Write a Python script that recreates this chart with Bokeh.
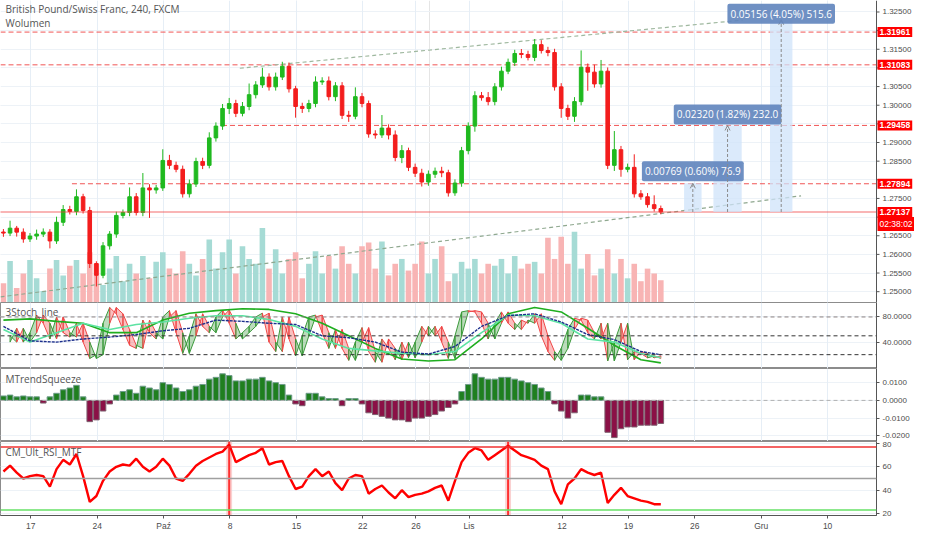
from bokeh.plotting import figure
from bokeh.layouts import column
from bokeh.models import (Range1d, FixedTicker, Grid, Span, Label, NumeralTickFormatter,
                          ColumnDataSource, Arrow, OpenHead)
from bokeh.core.properties import value
from bokeh.embed import file_html
from bokeh.resources import INLINE

# ---------------- data ----------------
title_text = "British Pound/Swiss Franc, 240, FXCM"
volume_title = "Wolumen"
stoch_title = "3Stoch_line"
squeeze_title = "MTrendSqueeze"
rsi_title = "CM_Ult_RSI_MTF"

# x axis: trading days counted from 17 Sep
tick_days = [0, 5, 10, 15, 20, 25, 29, 33, 40, 45, 50, 55, 60]
tick_labels = ["17", "24", "Paź", "8", "15", "22", "26", "Lis", "12", "19", "26", "Gru", "10"]
price_ticks = [1.250, 1.255, 1.260, 1.265, 1.270, 1.275, 1.280, 1.285, 1.290, 1.295,
               1.300, 1.305, 1.310, 1.315, 1.320, 1.325]

first_open = 1.26600
close = [1.26571, 1.26703, 1.26597, 1.26413, 1.26492, 1.26545, 1.26597, 1.26361, 1.26861, 1.27203,
         1.27150, 1.27545, 1.27176, 1.25755, 1.25440, 1.26229, 1.26545, 1.27045, 1.27124, 1.27545,
         1.27124, 1.27782, 1.27729, 1.27782, 1.28519, 1.28387, 1.28282, 1.27624, 1.27887, 1.28492,
         1.28387, 1.29124, 1.29440, 1.29913, 1.30045, 1.29782, 1.29966, 1.30282, 1.30545, 1.30755,
         1.30492, 1.30755, 1.31045, 1.30440, 1.29966, 1.29913, 1.30045, 1.30624, 1.30650, 1.30229,
         1.30519, 1.29729, 1.29703, 1.30229, 1.30045, 1.29229, 1.29203, 1.29387, 1.29203, 1.28597,
         1.28782, 1.28334, 1.28176, 1.27940, 1.28150, 1.28229, 1.28190, 1.27650, 1.27913, 1.28782,
         1.29440, 1.30255, 1.30203, 1.30097, 1.30492, 1.30913, 1.31150, 1.31387, 1.31361, 1.31282,
         1.31624, 1.31466, 1.31413, 1.30492, 1.29913, 1.29703, 1.30097, 1.31019, 1.30887, 1.30571,
         1.30913, 1.28387, 1.28808, 1.28282, 1.28334, 1.27624, 1.27545, 1.27334, 1.27229, 1.27137]
wick_up_pips = [8, 20, 6, 10, 8, 12, 10, 8, 15, 12,
                10, 20, 8, 10, 6, 10, 8, 10, 8, 25,
                10, 40, 10, 8, 30, 15, 10, 10, 12, 10,
                10, 15, 10, 12, 15, 10, 12, 30, 10, 25,
                10, 12, 12, 10, 8, 10, 10, 15, 10, 12,
                10, 10, 12, 25, 10, 8, 10, 35, 10, 12,
                15, 8, 10, 12, 10, 10, 12, 8, 10, 10,
                10, 12, 10, 15, 10, 12, 10, 10, 12, 10,
                15, 12, 10, 10, 10, 10, 12, 45, 10, 20,
                30, 10, 50, 10, 10, 35, 10, 10, 25, 8]
wick_dn_pips = [10, 8, 12, 10, 8, 10, 8, 20, 8, 10,
                8, 10, 8, 12, 30, 8, 10, 10, 8, 10,
                8, 10, 75, 10, 8, 10, 8, 10, 10, 8,
                10, 8, 10, 10, 15, 10, 8, 10, 10, 8,
                10, 10, 8, 10, 30, 12, 10, 10, 8, 10,
                12, 10, 15, 8, 10, 10, 10, 8, 12, 10,
                15, 10, 10, 12, 10, 10, 12, 10, 8, 10,
                10, 15, 8, 10, 10, 10, 8, 10, 10, 8,
                10, 8, 10, 10, 25, 10, 15, 10, 50, 10,
                10, 10, 15, 20, 8, 10, 8, 8, 8, 6]
volume = [20, 43, 15, 30, 44, 25, 12, 35, 44, 28,
          38, 44, 30, 52, 40, 18, 35, 48, 22, 40,
          30, 48, 25, 42, 52, 35, 30, 53, 40, 28,
          45, 65, 35, 52, 65, 30, 58, 45, 40, 77,
          35, 55, 30, 45, 52, 25, 40, 53, 30, 48,
          35, 58, 40, 30, 58, 62, 35, 63, 28, 40,
          45, 33, 40, 63, 30, 45, 58, 22, 30, 42,
          35, 45, 30, 40, 38, 45, 30, 48, 35, 40,
          42, 30, 67, 45, 68, 40, 73, 35, 50, 28,
          35, 55, 30, 45, 25, 40, 22, 35, 30, 23]

levels = [1.31961, 1.31083, 1.29458, 1.27894]
last_price = 1.27137
countdown = "02:38:02"
meas_delta = [0.00769, 0.02320, 0.05156]
meas_pct = ["0.60%", "1.82%", "4.05%"]
meas_bars = ["76.9", "232.0", "515.6"]

# trend-line drawings (day, price)
upper_trend_days = [15.74, 53.6]
upper_trend_prices = [1.30992, 1.32282]
lower_trend_days = [-2.28, 58.0]
lower_trend_prices = [1.24861, 1.27571]

stoch_fast = [50, 40, 62, 40, 55, 83, 70, 45, 80, 55,
              48, 70, 40, 14, 20, 70, 95, 85, 60, 35,
              30, 75, 55, 45, 80, 90, 55, 22, 50, 85,
              65, 55, 80, 91, 70, 45, 55, 65, 80, 86,
              40, 25, 80, 45, 18, 50, 80, 83, 55, 30,
              60, 30, 11, 40, 63, 25, 8, 45, 30, 12,
              40, 15, 40, 65, 50, 65, 40, 14, 50, 88,
              90, 88, 70, 45, 70, 88, 70, 60, 75, 70,
              85, 50, 25, 11, 30, 60, 78, 75, 55, 45,
              70, 10, 40, 70, 12, 25, 22, 15, 18, 14]
stoch_navy = [65, 42, 40, 45, 48, 52, 58, 62, 75, 73, 70, 68, 50, 47, 40, 24, 21, 33, 65, 82, 85, 72, 52, 44, 25, 20]
stoch_light = [60, 40, 55, 70, 60, 68, 72, 78, 82, 82, 76, 65, 45, 30, 26, 22, 20, 25, 55, 83, 82, 70, 45, 40, 22, 15]
stoch_green = [75, 77, 73, 70, 55, 55, 75, 86, 90, 93, 92, 85, 70, 50, 30, 13, 10, 12, 45, 85, 95, 88, 62, 35, 12, 7]
stoch_levels = [80, 50, 20]

squeeze_milli = [2.5, 3, 2, 2.5, 2, 2, -1.5, 2, 4, 6,
                 7, 8.5, 2, -12, -11, -6, -2, 3, 5, 6,
                 4, 8, 7, 6, 10, 9, 7, 5, 6, 8,
                 9, 12, 13, 15, 14, 11, 11, 12, 12, 13,
                 11, 10, 9, 3, -2, -3, 4, 4, 2, 1,
                 1, -3, 1, 1, -2, -7, -8, -9, -10, -11,
                 -11, -12, -10, -10, -9, -8, -6, -4, -2, 5,
                 9, 15, 13, 12, 12, 13, 13, 12, 11, 10,
                 9, 7, 5, -2, -6, -10, -7, 3, 3, 2,
                 2, -18, -21, -16, -15, -15, -14, -14, -14, -13]

rsi = [56, 61, 55, 50, 52, 53, 52, 43, 58, 66,
       62, 71, 52, 30, 35, 48, 56, 60, 62, 61,
       67, 60, 56, 60, 67, 61, 50, 48, 54, 61,
       65, 68, 71, 73, 79, 64, 67, 70, 72, 76,
       62, 64, 65, 52, 41, 43, 52, 58, 52, 56,
       46, 40, 50, 53, 52, 37, 41, 44, 38, 33,
       40, 34, 36, 37, 39, 42, 44, 31, 48, 64,
       72, 76, 74, 66, 70, 74, 78, 74, 70, 68,
       66, 61, 58, 39, 28, 45, 50, 58, 55, 53,
       55, 29, 36, 42, 35, 33, 31, 30, 28, 28]
rsi_levels = [77, 50, 23]

# ---------------- layout constants ----------------
FIRST_BAR_DAY = -2.06
BAR_STEP = 0.5
XMIN, XMAX = -2.28, 63.68
FW = 876
RB = 38
DAYS_PER_PX = (XMAX - XMIN) / FW
XEND = XMAX + RB * DAYS_PER_PX
AXIS_FONT = "Liberation Sans"
TEXT_FONT = "Open Sans"
UP, DOWN = "#1fb91f", "#f31d1d"

n = len(close)
bx = [FIRST_BAR_DAY + BAR_STEP * i for i in range(n)]
opens = [first_open] + close[:-1]
highs = [max(o, c) + w * 1e-4 for o, c, w in zip(opens, close, wick_up_pips)]
lows = [min(o, c) - w * 1e-4 for o, c, w in zip(opens, close, wick_dn_pips)]
is_up = [c >= o for o, c in zip(opens, close)]
xr = Range1d(XMIN, XMAX)


def style_axis(ax):
    ax.axis_line_color = "#555555"
    ax.major_tick_line_color = "#555555"
    ax.minor_tick_line_color = None
    ax.major_tick_out = 3
    ax.major_tick_in = 0
    ax.major_label_text_font = AXIS_FONT
    ax.major_label_text_color = "#4d4d4d"


def base_fig(h, yr, ticks, fmt, xaxis=False):
    p = figure(frame_width=FW, frame_height=h, x_range=xr, y_range=yr,
               output_backend="svg", toolbar_location=None,
               y_axis_location="right", x_axis_location="below" if xaxis else None,
               min_border_left=0, min_border_right=RB, min_border_top=0, min_border_bottom=0)
    p.background_fill_color = "white"
    p.border_fill_color = "white"
    p.outline_line_color = "#8c8c8c"
    ax = p.yaxis[0]
    ax.ticker = FixedTicker(ticks=ticks)
    ax.formatter = NumeralTickFormatter(format=fmt)
    style_axis(ax)
    ax.major_label_standoff = 3
    ax.major_label_text_font_size = "8px"
    p.ygrid.grid_line_color = "#edf2f7"
    p.add_layout(Grid(dimension=0, ticker=FixedTicker(ticks=tick_days),
                      grid_line_color="#e6eef6"))
    if xaxis:
        xa = p.xaxis[0]
        xa.ticker = FixedTicker(ticks=tick_days)
        xa.major_label_overrides = {d: l for d, l in zip(tick_days, tick_labels)}
        style_axis(xa)
        xa.major_label_standoff = 2
        xa.major_label_text_font_size = "8.5px"
        p.xgrid.grid_line_color = None
    return p


def panel_title(p, text, y, dy):
    p.add_layout(Label(x=XMIN, y=y, x_offset=5, y_offset=dy, text=text,
                       text_font=TEXT_FONT, text_font_size="10px", text_color="#555555",
                       text_baseline="middle"))


# ---------------- main price panel (axis drawn inside the frame so price tags show) ----------------
YMIN, YMAX = 1.24710, 1.32808
PRICE_PER_PX = (YMAX - YMIN) / 302
main = figure(frame_width=FW + RB, frame_height=302, x_range=Range1d(XMIN, XEND),
              y_range=Range1d(YMIN, YMAX), output_backend="svg", toolbar_location=None,
              x_axis_location=None, y_axis_location=None,
              min_border_left=0, min_border_right=0, min_border_top=0, min_border_bottom=0)
main.background_fill_color = "white"
main.border_fill_color = "white"
main.outline_line_color = None
main.add_layout(Grid(dimension=1, ticker=FixedTicker(ticks=price_ticks), grid_line_color="#edf2f7"))
main.add_layout(Grid(dimension=0, ticker=FixedTicker(ticks=tick_days), grid_line_color="#e6eef6"))
main.extra_y_ranges = {"vol": Range1d(0, 312)}

# axis area background
main.quad(left=XMAX, right=XEND, bottom=YMIN, top=YMAX, fill_color="white", line_color=None)

vsrc = ColumnDataSource(dict(x=bx, v=volume,
                             c=["#a6dbd5" if u else "#f8b4b4" for u in is_up]))
main.vbar(x="x", top="v", bottom=0, width=0.42, fill_color="c", line_color=None,
          source=vsrc, y_range_name="vol")

# level lines
level_from = [XMIN, XMIN, 14.4, 3.1]
for lv, x0 in zip(levels, level_from):
    main.segment(x0=x0, y0=lv, x1=XMAX, y1=lv, line_color="#f05555", line_dash="5 3", line_width=1)

# trend lines
main.line(upper_trend_days, upper_trend_prices, line_color="#9fb89f", line_dash="4 3", line_width=1.2)
main.line(lower_trend_days, lower_trend_prices, line_color="#8fa88f", line_dash="4 3", line_width=1.2)

# candles
csrc = ColumnDataSource(dict(x=bx, h=highs, l=lows,
                             t=[max(o, c) for o, c in zip(opens, close)],
                             b=[min(o, c) for o, c in zip(opens, close)],
                             c=[UP if u else DOWN for u in is_up]))
main.segment(x0="x", y0="h", x1="x", y1="l", line_color="c", line_width=1, source=csrc)
main.vbar(x="x", top="t", bottom="b", width=0.27, fill_color="c", line_color="c", source=csrc)

# current price line
main.segment(x0=XMIN, y0=last_price, x1=XMAX, y1=last_price, line_color="#f03c3c",
             line_dash="1 1", line_width=1.5)

# measurement tools
meas_x = [(49.19, 50.51), (51.4, 53.53), (55.66, 57.35)]
box_dy = [12, 11, 6]
for (xa, xb), d, pc, bars, dy in zip(meas_x, meas_delta, meas_pct, meas_bars, box_dy):
    top = last_price + d
    main.quad(left=xa, right=xb, bottom=last_price, top=top, fill_color="#cfe3f9",
              fill_alpha=0.75, line_color=None)
    xc = (xa + xb) / 2
    main.add_layout(Arrow(end=OpenHead(size=5, line_color="#8a8a8a", line_width=1),
                          x_start=xc, y_start=last_price, x_end=xc, y_end=top,
                          line_color="#8a8a8a", line_dash="3 2", line_width=1))
    main.add_layout(Label(x=xc, y=top, y_offset=dy, text=f"{d:.5f} ({pc}) {bars}",
                          text_align="center", text_baseline="middle",
                          text_font=TEXT_FONT, text_font_size="10px", text_color="white",
                          background_fill_color="#5f84bd", background_fill_alpha=0.9,
                          padding=3, border_radius=2))

# price axis (line, ticks, labels)
main.segment(x0=XMAX, y0=YMIN, x1=XMAX, y1=YMAX, line_color="#555555", line_width=1)
main.segment(x0=[XMAX] * len(price_ticks), y0=price_ticks,
             x1=[XMAX + 3 * DAYS_PER_PX] * len(price_ticks), y1=price_ticks,
             line_color="#555555", line_width=1)
tag_prices = levels + [last_price, last_price - 12 * PRICE_PER_PX]
shown = [t for t in price_ticks if min(abs(t - g) for g in tag_prices) > 8 * PRICE_PER_PX]
main.text(x=[XMAX] * len(shown), y=shown, text=[f"{t:.5f}" for t in shown], x_offset=6,
          text_baseline="middle", text_align="left", text_font=value(AXIS_FONT),
          text_font_size="8px", text_color="#4d4d4d")

# axis price tags
for lv in levels + [last_price]:
    main.add_layout(Label(x=XMAX, y=lv, x_offset=1, text=f"{lv:.5f}", text_align="left",
                          text_baseline="middle", text_font=AXIS_FONT, text_font_size="8.5px",
                          text_font_style="bold", text_color="white",
                          background_fill_color="#ff0000", padding=2))
main.add_layout(Label(x=XMAX, y=last_price, x_offset=1, y_offset=-12, text=countdown,
                      text_align="left", text_baseline="middle", text_font=AXIS_FONT,
                      text_font_size="8.5px", text_color="white",
                      background_fill_color="#ff0000", padding=2))

panel_title(main, title_text, YMAX, -8)
panel_title(main, volume_title, YMAX, -22)

# ---------------- stochastic panel ----------------
stoch = base_fig(66, Range1d(-2, 103), [40, 80], "0.0000")
for lv, col in zip(stoch_levels, ["#8a8080", "#333333", "#333333"]):
    stoch.add_layout(Span(location=lv, dimension="width", line_color=col,
                          line_dash="4 3", line_width=1))
xs, ys, cs = [], [], []
for i in range(2, n):
    k0, k1 = stoch_fast[i - 1], stoch_fast[i]
    d0, d1 = stoch_fast[i - 2], stoch_fast[i - 1]
    xs.append([bx[i - 1], bx[i], bx[i], bx[i - 1]])
    ys.append([k0, k1, d1, d0])
    cs.append("#3c9a3c" if k1 >= d1 else "#f04848")
stoch.patches(xs="xs", ys="ys", fill_color="c", line_color="c", fill_alpha=0.35,
              line_width=1, source=ColumnDataSource(dict(xs=xs, ys=ys, c=cs)))
slow_idx = list(range(0, n, 4)) + [n - 1]
sx = [bx[i] for i in slow_idx]
stoch.line(sx, stoch_green, line_color="#1fae1f", line_width=1.6)
stoch.line(sx, stoch_light, line_color="#5de3a3", line_width=1.6)
stoch.line(sx, stoch_navy, line_color="#1c2f8c", line_width=1.4, line_dash="3 1")
panel_title(stoch, stoch_title, 103, -9)

# ---------------- squeeze panel ----------------
sq = base_fig(73, Range1d(-0.0232, 0.018), [-0.02, -0.01, 0.0, 0.01], "0.0000")
sq.add_layout(Span(location=0, dimension="width", line_color="#b0b0b0",
                   line_dash="4 3", line_width=1))
sqv = [v * 1e-3 for v in squeeze_milli]
sq.vbar(x=bx, top=sqv, bottom=0, width=0.42,
        fill_color=["#1f7f1f" if v >= 0 else "#8b1046" for v in sqv],
        line_color=["#6f9c8c" if v >= 0 else "#7d5f6e" for v in sqv], line_width=1)
panel_title(sq, squeeze_title, 0.018, -10)

# ---------------- RSI panel ----------------
rp = base_fig(74, Range1d(18.3, 81.7), [20, 40, 60, 80], "0", xaxis=True)
hot = [x for x, r in zip(bx, rsi) if r >= rsi_levels[0]]
if hot:
    rp.quad(left=[x - 0.22 for x in hot], right=[x + 0.22 for x in hot], bottom=18.3, top=81.7,
            fill_color="#f9c6c6", fill_alpha=0.8, line_color=None)
    rp.segment(x0=hot, y0=18.3, x1=hot, y1=81.7, line_color="#ff3030", line_width=2)
for lv, col in zip(rsi_levels, ["#f03030", "#a0a0a0", "#66e066"]):
    rp.add_layout(Span(location=lv, dimension="width", line_color=col, line_width=1.6))
rp.line(bx, rsi, line_color="#ff0000", line_width=2.4)
panel_title(rp, rsi_title, 81.7, -10)

layout = column(main, stoch, sq, rp, spacing=0)
open("out.html", "w").write(file_html(layout, INLINE))
